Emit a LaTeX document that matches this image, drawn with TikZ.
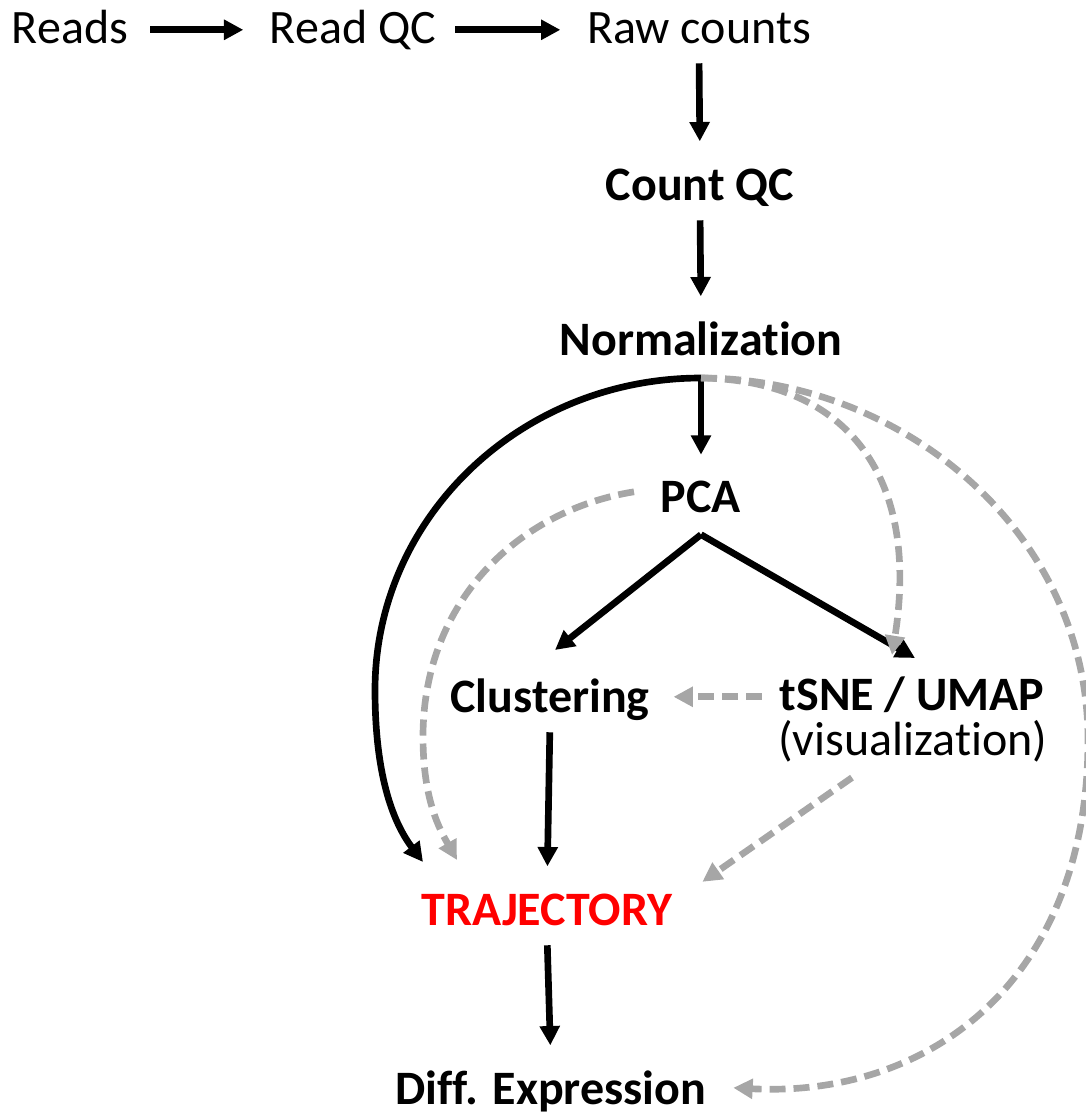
\documentclass[tikz,border=0pt]{standalone}
\usepackage{fontspec}
\setmainfont{Carlito}[Ligatures=NoCommon]
\usetikzlibrary{arrows.meta,calc}
\definecolor{flowgray}{HTML}{A6A6A6}
\definecolor{trajred}{HTML}{FF0000}
\begin{document}
\begin{tikzpicture}[x=0.75pt,y=-0.75pt,
  lbl/.style={inner sep=0pt, outer sep=0pt, anchor=base,
    font=\fontsize{36}{40}\selectfont, text height=27pt, text depth=7.2pt},
  blbl/.style={lbl, font=\fontsize{36}{40}\selectfont\bfseries},
  flow/.style={line width=5pt, -{Triangle[length=14.5pt,width=14.5pt]}},
  hint/.style={flow, draw=flowgray, dash pattern=on 12pt off 6pt},
  vstep/.style={shorten <=8pt, shorten >=17pt}]
\useasboundingbox (0,0) rectangle (1086,1115);

% labels
\node[lbl]  (reads)   at (70,43)    {Reads};
\node[lbl]  (readqc)  at (353,43)   {Read QC};
\node[lbl]  (raw)     at (699,43)   {Raw counts};
\node[blbl] (countqc) at (700,200)  {Count QC};
\node[blbl] (norm)    at (701,355)  {Normalization};
\node[blbl] (pca)     at (701,512)  {PCA};
\node[blbl] (clus)    at (550,712)  {Clustering};
\node[blbl] (tsne)    at (912,710)  {tSNE / UMAP};
\node[lbl]  (tsnesub) at (913,755)  {(visualization)};
\node[blbl, text=trajred] (traj) at (547,925) {TRAJECTORY};
\node[blbl] (diff)    at (551,1104) {Diff. Expression};

% branching point below the normalization step
\coordinate (hub) at ($(norm.south)+(0,13.4)$);

% main pipeline
\draw[flow, shorten <=16.5pt, shorten >=20pt] (reads.east) -- (readqc.west);
\draw[flow, shorten <=14.25pt, shorten >=20pt] (readqc.east) -- (raw.west);
\draw[flow, vstep] (raw.south) -- (countqc.north);
\draw[flow, vstep] (countqc.south) -- (norm.north);
\draw[flow, shorten >=16pt] (hub) -- (pca.north);
\draw[flow] ($(pca.south)+(0,13)$) -- ($(clus.north)+(5,-26)$);
\draw[flow] ($(pca.south)+(0,13)$) -- ($(tsne.north)+(3,-16)$);
\draw[flow, vstep] (clus.south) -- (traj.north);
\draw[flow, vstep] (traj.south) -- (diff.north);

% direct route from normalization to trajectory
\draw[flow] (hub) .. controls (520,378) and (375,518) .. (375,690)
  .. controls (375,780) and (395,825) .. ($(traj.north)+(-124,-27)$);

% optional routes
\draw[hint] ($(pca.west)+(-27,-7)$) .. controls (520,510) and (423,600) .. (423,737)
  .. controls (423,800) and (440,830) .. ($(traj.north)+(-90,-29)$);
\draw[hint] (hub) .. controls (850,380) and (920,480) .. ($(tsne.north)+(-20,-19)$);
\draw[hint] (hub) .. controls (900,378) and (1088,530) .. (1088,740)
  .. controls (1088,980) and (930,1098) .. ($(diff.east)+(27,-3)$);
\draw[hint] ($(tsne.west)+(-18,0)$) -- ($(clus.east)+(24,-2)$);
\draw[hint] ($(tsnesub.south)+(-61,13)$) -- ($(traj.east)+(30,-30)$);
\end{tikzpicture}
\end{document}
